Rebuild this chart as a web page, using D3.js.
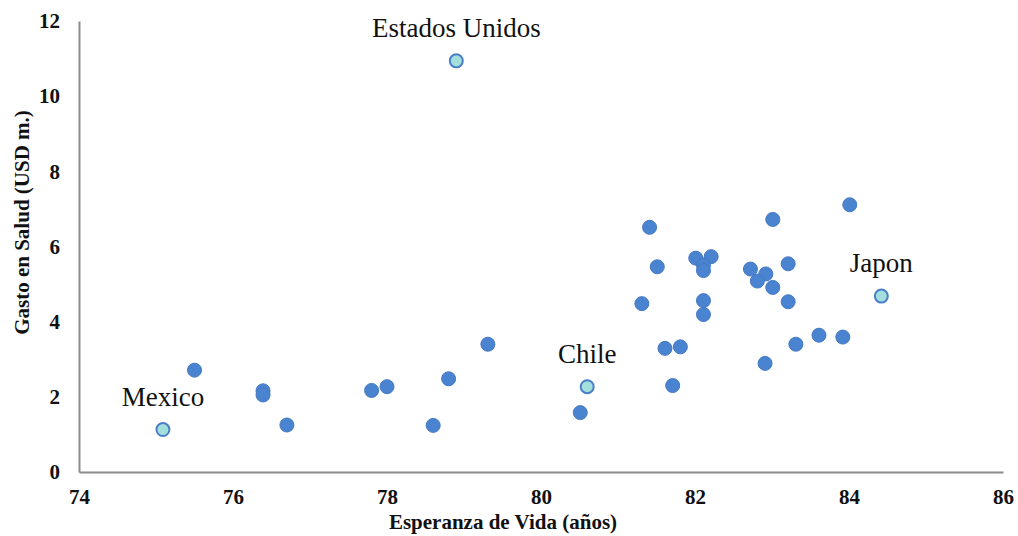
<!DOCTYPE html>
<html>
<head>
<meta charset="utf-8">
<script src="https://cdn.jsdelivr.net/npm/d3@7"></script>
<style>
  html, body { margin: 0; padding: 0; background: #fff; }
  svg { display: block; }
</style>
</head>
<body>
<svg id="chart" width="1018" height="536"></svg>
<script>
// Life expectancy (years) vs. health spending (USD m.)
const lifeExpectancy = [75.50, 76.39, 76.39, 76.70, 77.80, 78.00, 78.80, 78.60, 79.31, 80.51,
  81.31, 81.41, 81.51, 81.61, 81.71, 81.81, 82.01, 82.21, 82.11, 82.11, 82.11, 82.11,
  82.72, 82.92, 82.81, 83.01, 83.01, 83.21, 83.21, 82.91, 83.31, 83.61, 83.92, 84.01];
const healthSpend = [2.71, 2.16, 2.05, 1.25, 2.17, 2.27, 2.48, 1.24, 3.40, 1.58,
  4.48, 6.51, 5.46, 3.29, 2.30, 3.33, 5.69, 5.73, 5.51, 5.36, 4.56, 4.19,
  5.40, 5.27, 5.08, 4.91, 6.72, 5.54, 4.53, 2.89, 3.40, 3.64, 3.59, 7.11];

// Highlighted countries
const namedCountries = ["Mexico", "Estados Unidos", "Chile", "Japon"];
const namedLife = [75.09, 78.90, 80.60, 84.42];
const namedSpend = [1.13, 10.94, 2.27, 4.68];

const xTicks = [74, 76, 78, 80, 82, 84, 86];
const yTicks = [0, 2, 4, 6, 8, 10, 12];

const svg = d3.select("#chart");
const x = d3.scaleLinear().domain([74, 86]).range([79, 1003]);
const y = d3.scaleLinear().domain([0, 12]).range([472, 21]);

const serif = "Liberation Serif, Times New Roman, serif";

// Axes: only the baseline lines, no tick marks
const xAxis = svg.append("g").attr("transform", `translate(0,${y(0)})`)
  .call(d3.axisBottom(x).tickValues(xTicks).tickSize(0).tickPadding(17).tickFormat(d3.format("d")));
const yAxis = svg.append("g").attr("transform", `translate(${x(74)},0)`)
  .call(d3.axisLeft(y).tickValues(yTicks).tickSize(0).tickPadding(19).tickFormat(d3.format("d")));

[xAxis, yAxis].forEach(g => {
  g.attr("font-family", null).attr("font-size", null);
  g.select(".domain").attr("stroke", "#8c8c8c").attr("stroke-width", 2);
  g.selectAll("text")
    .style("font-family", serif)
    .style("font-weight", "bold")
    .style("font-size", "21px")
    .attr("fill", "#111");
});
xAxis.selectAll("text").attr("dy", "0.71em");

// Axis titles
svg.append("text")
  .attr("x", (x(74) + x(86)) / 2 - 38)
  .attr("y", 529)
  .attr("text-anchor", "middle")
  .style("font-family", serif)
  .style("font-weight", "bold")
  .style("font-size", "21px")
  .attr("fill", "#111")
  .text("Esperanza de Vida (años)");

svg.append("text")
  .attr("transform", `translate(29,${(y(0) + y(12)) / 2 - 24}) rotate(-90)`)
  .attr("text-anchor", "middle")
  .style("font-family", serif)
  .style("font-weight", "bold")
  .style("font-size", "21px")
  .attr("fill", "#111")
  .text("Gasto en Salud (USD m.)");

// Regular countries
svg.append("g").selectAll("circle")
  .data(lifeExpectancy.map((v, i) => ({ le: v, gs: healthSpend[i] })))
  .join("circle")
  .attr("cx", d => x(d.le))
  .attr("cy", d => y(d.gs))
  .attr("r", 7)
  .attr("fill", "#4a84d0")
  .attr("stroke", "#4478c2")
  .attr("stroke-width", 1);

// Highlighted countries with labels
const named = namedCountries.map((n, i) => ({ name: n, le: namedLife[i], gs: namedSpend[i] }));
svg.append("g").selectAll("circle")
  .data(named)
  .join("circle")
  .attr("cx", d => x(d.le))
  .attr("cy", d => y(d.gs))
  .attr("r", 6.5)
  .attr("fill", "#a3dfdc")
  .attr("stroke", "#4a7fc8")
  .attr("stroke-width", 2);

svg.append("g").selectAll("text")
  .data(named)
  .join("text")
  .attr("x", d => x(d.le))
  .attr("y", d => y(d.gs) - 24)
  .attr("text-anchor", "middle")
  .style("font-family", serif)
  .style("font-size", "27px")
  .attr("fill", "#111")
  .text(d => d.name);
</script>
</body>
</html>
